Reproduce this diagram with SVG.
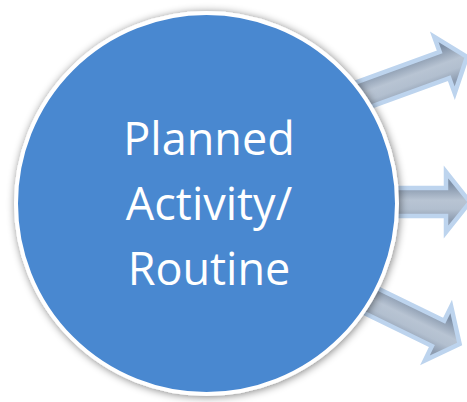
<svg xmlns="http://www.w3.org/2000/svg" xmlns:xlink="http://www.w3.org/1999/xlink" width="467" height="402" viewBox="0 0 467 402">
  <defs>
    <style>
      .arrow { fill: url(#shaftGrad); stroke: #bdd4ee; stroke-width: 4.5; stroke-linejoin: miter; stroke-miterlimit: 10; }
      .node-circle { fill: #4a88d0; stroke: #ffffff; stroke-width: 4; }
      .label { font-family: "Open Sans", "Liberation Sans", sans-serif; font-size: 45px; fill: #ffffff; text-anchor: middle; }
    </style>
    <linearGradient id="shaftGrad" gradientUnits="userSpaceOnUse" x1="0" y1="-18" x2="0" y2="18">
      <stop offset="0" stop-color="#7f90a6"/>
      <stop offset="0.45" stop-color="#b8c4d3"/>
      <stop offset="0.7" stop-color="#b2bfcf"/>
      <stop offset="1" stop-color="#8e9db1"/>
    </linearGradient>
    <filter id="shadow" x="-20%" y="-20%" width="140%" height="140%">
      <feGaussianBlur in="SourceAlpha" stdDeviation="4"/>
      <feOffset dx="1" dy="1" result="b"/>
      <feComponentTransfer><feFuncA type="linear" slope="0.5"/></feComponentTransfer>
      <feMerge><feMergeNode/><feMergeNode in="SourceGraphic"/></feMerge>
    </filter>
    <path id="arrowShape" d="M-40,-14 L52,-14 L52,-30 L76,0 L52,30 L52,14 L-40,14 Z"/>
  </defs>
  <g id="connectors">
    <use xlink:href="#arrowShape" href="#arrowShape" class="arrow" transform="translate(395.6,82.8) rotate(-20)"/>
    <use xlink:href="#arrowShape" href="#arrowShape" class="arrow" transform="translate(394,202)"/>
    <use xlink:href="#arrowShape" href="#arrowShape" class="arrow" transform="translate(391.3,310.6) rotate(26)"/>
  </g>
  <g id="node-planned-activity">
    <circle class="node-circle" cx="206.5" cy="203.5" r="190.5" filter="url(#shadow)"/>
    <text class="label" x="209" y="155">Planned</text>
    <text class="label" x="209" y="220">Activity/</text>
    <text class="label" x="209" y="285">Routine</text>
  </g>
</svg>
